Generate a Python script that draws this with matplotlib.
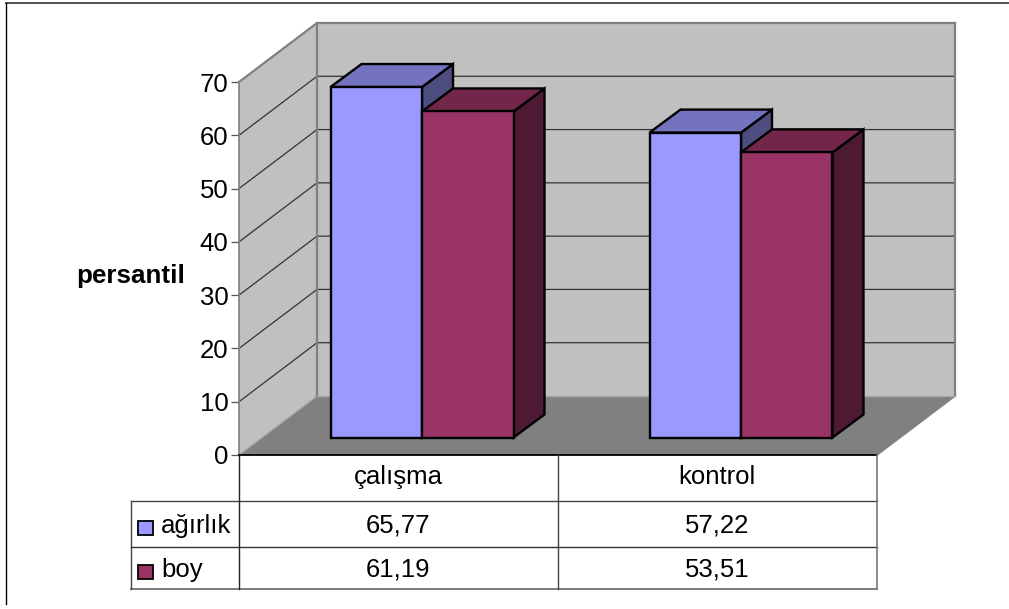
import matplotlib
matplotlib.use("Agg")
import matplotlib.pyplot as plt
from matplotlib.patches import Polygon, Rectangle
from matplotlib.lines import Line2D

plt.rcParams['font.family'] = ['Liberation Sans', 'DejaVu Sans']

categories = ['çalışma', 'kontrol']
series_names = ['ağırlık', 'boy']
agirlik = [65.77, 57.22]
boy = [61.19, 53.51]
value_labels = [['65,77', '57,22'], ['61,19', '53,51']]
y_ticks = [0, 10, 20, 30, 40, 50, 60, 70]
y_label = 'persantil'

W, H = 1009, 609
fig = plt.figure(figsize=(W / 100, H / 100), dpi=100, facecolor='white')

# Front plane of the oblique box: x spans two categories, y spans the value axis.
X0, X1, Y0, Y70 = 239.0, 877.0, 455.0, 82.0
ax = fig.add_axes([X0 / W, 1 - Y0 / H, (X1 - X0) / W, (Y0 - Y70) / H])
ax.set_xlim(0, 2)
ax.set_ylim(0, 70)
ax.patch.set_visible(False)
for s in ax.spines.values():
    s.set_visible(False)

PX = 2 / (X1 - X0)          # data units per pixel, x
PY = 70 / (Y0 - Y70)        # data units per pixel, y
WALL_DX, WALL_DY = 78 * PX, 59 * PY
BAR_DX, BAR_DY = 31 * PX, 23 * PY
BAR_GAP = 17.5 * PY         # bars stand slightly in front of the back of the floor


def poly(pts, fc, ec='none', lw=0.0, z=1):
    ax.add_patch(Polygon(pts, closed=True, facecolor=fc, edgecolor=ec, linewidth=lw,
                         joinstyle='miter', clip_on=False, zorder=z))


# Walls and floor
poly([(0, 0), (WALL_DX, WALL_DY), (WALL_DX, 70 + WALL_DY), (0, 70)], '#C0C0C0', z=1)
poly([(WALL_DX, WALL_DY), (2 + WALL_DX, WALL_DY), (2 + WALL_DX, 70 + WALL_DY),
      (WALL_DX, 70 + WALL_DY)], '#C0C0C0', z=1)
poly([(0, 0), (2, 0), (2 + WALL_DX, WALL_DY), (WALL_DX, WALL_DY)], '#808080', z=2)

# Gridlines run along the side wall and across the back wall
for v in y_ticks[1:-1]:
    ax.plot([0, WALL_DX, 2 + WALL_DX], [v, v + WALL_DY, v + WALL_DY], color='#333333',
            lw=0.9, clip_on=False, zorder=3, solid_joinstyle='miter')
ax.plot([0, WALL_DX, 2 + WALL_DX], [70, 70 + WALL_DY, 70 + WALL_DY], color='#808080',
        lw=1.6, clip_on=False, zorder=3)
ax.plot([0, WALL_DX], [0, WALL_DY], color='#A8A8A8', lw=1.0, clip_on=False, zorder=3)
ax.plot([0, 0], [0, 70], color='#808080', lw=1.2, clip_on=False, zorder=3)
ax.plot([WALL_DX, WALL_DX], [WALL_DY, 70 + WALL_DY], color='#808080', lw=1.6,
        clip_on=False, zorder=3)
ax.plot([2 + WALL_DX] * 2, [WALL_DY, 70 + WALL_DY], color='#808080', lw=1.6,
        clip_on=False, zorder=3)
ax.plot([2, 2 + WALL_DX], [0, WALL_DY], color='#808080', lw=1.2, clip_on=False, zorder=3)
ax.plot([WALL_DX, 2 + WALL_DX], [WALL_DY, WALL_DY], color='#A8A8A8', lw=1.0,
        clip_on=False, zorder=3)

# Bars, as oblique boxes
BAR_OFFSET = 91.5 * PX      # start of the first bar within its category
BAR_WIDTH = 91.5 * PX
GROUP_STEP = 1.0


def box(x, val, front, top, side, z):
    b = BAR_GAP
    t = b + val
    kw = dict(ec='black', lw=1.7, z=z)
    poly([(x + BAR_WIDTH, b), (x + BAR_WIDTH + BAR_DX, b + BAR_DY),
          (x + BAR_WIDTH + BAR_DX, t + BAR_DY), (x + BAR_WIDTH, t)], side, **kw)
    poly([(x, t), (x + BAR_WIDTH, t), (x + BAR_WIDTH + BAR_DX, t + BAR_DY),
          (x + BAR_DX, t + BAR_DY)], top, **kw)
    poly([(x, b), (x + BAR_WIDTH, b), (x + BAR_WIDTH, t), (x, t)], front, **kw)


for i in range(len(categories)):
    x = i * GROUP_STEP + BAR_OFFSET
    box(x, agirlik[i], '#9999FF', '#7373BF', '#4D4D80', 5 + i * 2)
    box(x + BAR_WIDTH, boy[i], '#993366', '#732649', '#4D1933', 6 + i * 2)

# Value axis
ax.set_xticks([])
ax.set_yticks(y_ticks)
ax.tick_params(axis='y', length=6, width=0.9, color='#555555', labelsize=18.5,
               labelcolor='black', pad=1.5)
ax.set_ylabel(y_label, rotation=0, fontsize=18.7, fontweight='bold', ha='center', va='center')
ax.yaxis.set_label_coords((130.5 - X0) / (X1 - X0), (Y0 - 276) / (Y0 - Y70),
                          transform=ax.transAxes)


# Data table below the chart, laid out in figure pixels
def hline(x0, x1, y, c='#333333', lw=1.0):
    fig.add_artist(Line2D([x0 / W, x1 / W], [1 - y / H] * 2, color=c, lw=lw))


def vline(x, y0, y1, c='#222222', lw=1.0):
    fig.add_artist(Line2D([x / W] * 2, [1 - y0 / H, 1 - y1 / H], color=c, lw=lw))


def label(x, y, s, ha='center', size=18.5):
    fig.text(x / W, 1 - y / H, s, ha=ha, va='baseline', fontsize=size, color='black')


hline(X0, X1, Y0, c='black', lw=1.3)
hline(130.5, X1, 501, c='#444444')
hline(130.5, X1, 547, c='#333333')
hline(130.5, X1, 589, c='#666666', lw=1.2)
vline(X0, Y0, 589)
vline(558, Y0, 589, c='#444444')
vline(X1, Y0, 589, c='#777777', lw=1.2)
vline(130.5, 501, 589, c='#444444')

col_centers = [398, 717]
row_baselines = [533, 577]
swatch_tops = [521, 565]
for cx, name in zip(col_centers, categories):
    label(cx, 484, name)
for r, (yb, top, name, fc) in enumerate(zip(row_baselines, swatch_tops, series_names,
                                            ['#9999FF', '#993366'])):
    fig.add_artist(Rectangle((138 / W, 1 - (top + 14) / H), 14.5 / W, 14 / H, transform=fig.transFigure,
                             facecolor=fc, edgecolor='black', linewidth=1.3))
    label(161, yb, name, ha='left')
    for cx, txt in zip(col_centers, value_labels[r]):
        label(cx, yb, txt)

# Chart-area frame: only the top and left edges are drawn
fig.add_artist(Line2D([6 / W, 1], [1 - 3 / H] * 2, color='#444444', lw=1.3))
fig.add_artist(Line2D([6 / W] * 2, [1 - 3 / H, 1 - 604 / H], color='black', lw=1.0))

fig.savefig('out.png', dpi=100, facecolor='white')
